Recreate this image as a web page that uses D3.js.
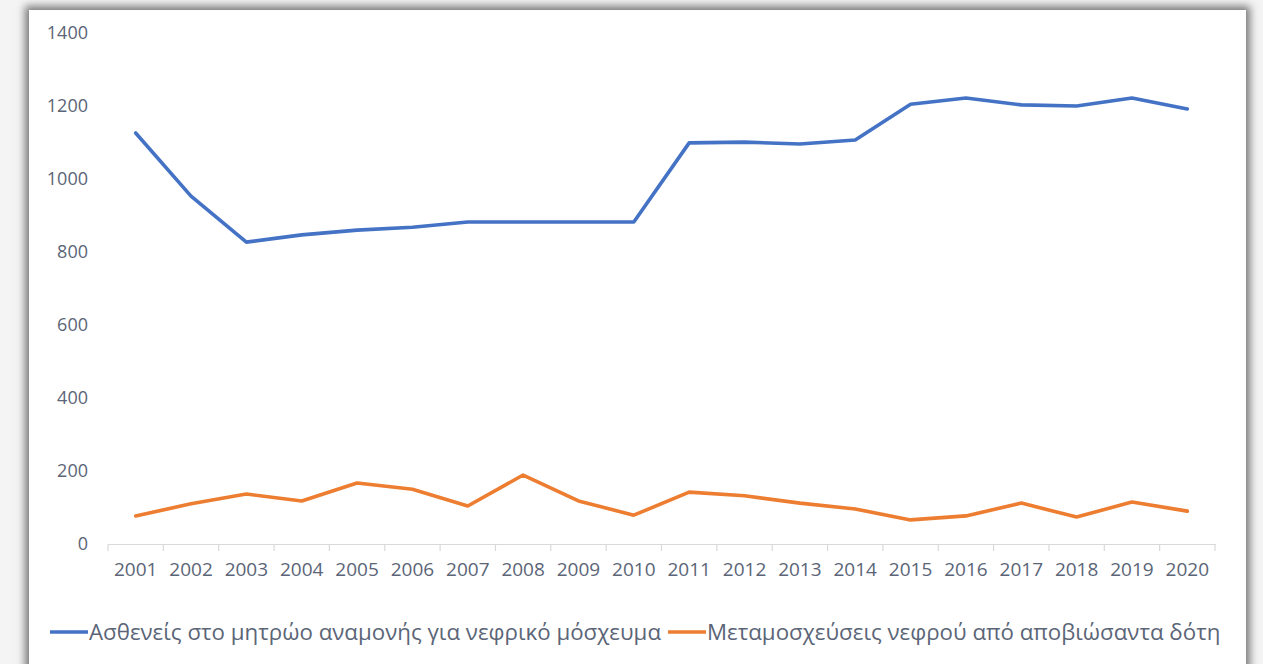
<!DOCTYPE html>
<html>
<head>
<meta charset="utf-8">
<script src="https://cdn.jsdelivr.net/npm/d3@7"></script>
<style>
  html, body { margin: 0; padding: 0; background: #f4f4f4; }
  body { width: 1263px; height: 664px; overflow: hidden; position: relative; }
  .card {
    position: absolute; left: 29px; top: 10px; width: 1217px; height: 680px;
    background: #fff; box-shadow: 0 0 8px 4px rgba(0,0,0,0.5);
  }
  svg { position: absolute; left: 0; top: 0; }
  text { font-family: "Open Sans", sans-serif; fill: #5b6577; }
</style>
</head>
<body>
<div class="card"></div>
<svg width="1263" height="664"></svg>
<script>
'use strict';

const YEARS = ['2001', '2002', '2003', '2004', '2005', '2006', '2007', '2008', '2009', '2010',
    '2011', '2012', '2013', '2014', '2015', '2016', '2017', '2018', '2019', '2020'];

// waiting list for kidney graft
const WAITING = [1126, 953, 827, 847, 860, 868, 882, 882, 882, 882,
    1099, 1101, 1096, 1107, 1205, 1222, 1203, 1200, 1222, 1192];

// kidney transplants from deceased donor
const TRANSPLANTS = [77, 110, 137, 118, 167, 150, 104, 189, 118, 79,
    142, 132, 112, 96, 66, 77, 112, 74, 115, 90];

const Y_TICKS = [0, 200, 400, 600, 800, 1000, 1200, 1400];

const SERIES = [
    { name: 'Ασθενείς στο μητρώο αναμονής για νεφρικό μόσχευμα', values: WAITING, color: '#4472c4' },
    { name: 'Μεταμοσχεύσεις νεφρού από αποβιώσαντα δότη', values: TRANSPLANTS, color: '#ed7d31' },
];

const svg = d3.select('svg');

// plot area
const LEFT = 108, RIGHT = 1215, TOP = 33, BOTTOM = 544;

const xScale = d3.scaleBand().domain(YEARS).range([LEFT, RIGHT]).padding(0);
const yScale = d3.scaleLinear().domain([0, 1400]).range([BOTTOM, TOP]);

// y axis labels (no line, no gridlines)
const yAxis = svg.append('g')
    .attr('transform', `translate(${LEFT - 20},0)`)
    .call(d3.axisLeft(yScale).tickValues(Y_TICKS).tickSize(0).tickPadding(0).tickFormat(d3.format('d')));
yAxis.select('.domain').remove();
yAxis.selectAll('text').style('font-size', '18px').attr('fill', '#5b6577');

// x axis: base line plus boundary ticks
const xAxis = svg.append('g')
    .attr('transform', `translate(0,${BOTTOM})`)
    .call(d3.axisBottom(xScale).tickSize(0).tickPadding(19));
xAxis.select('.domain').attr('stroke', '#d9d9d9').attr('stroke-width', 1.2);
xAxis.selectAll('text').style('font-size', '19px').attr('fill', '#5b6577');

const bounds = YEARS.map((y) => xScale(y)).concat([xScale.range()[1]]);
svg.append('g')
    .selectAll('line')
    .data(bounds)
    .join('line')
    .attr('x1', (d) => d).attr('x2', (d) => d)
    .attr('y1', BOTTOM).attr('y2', BOTTOM + 7)
    .attr('stroke', '#d9d9d9').attr('stroke-width', 1.2);

// lines
const line = d3.line()
    .x((d, i) => xScale(YEARS[i]) + xScale.bandwidth() / 2)
    .y((d) => yScale(d));

svg.append('g')
    .selectAll('path')
    .data(SERIES)
    .join('path')
    .attr('d', (s) => line(s.values))
    .attr('fill', 'none')
    .attr('stroke', (s) => s.color)
    .attr('stroke-width', 3.6)
    .attr('stroke-linejoin', 'round')
    .attr('stroke-linecap', 'round');

// legend
const LEGEND_Y = 632;
const legendX = [50, 668];
const legend = svg.append('g')
    .selectAll('g')
    .data(SERIES)
    .join('g')
    .attr('transform', (s, i) => `translate(${legendX[i]},${LEGEND_Y})`);
legend.append('line')
    .attr('x1', 0).attr('x2', 38)
    .attr('stroke', (s) => s.color)
    .attr('stroke-width', 3.6);
legend.append('text')
    .attr('x', 39)
    .attr('dy', '0.35em')
    .style('font-size', '22.3px')
    .text((s) => s.name);
</script>
</body>
</html>
